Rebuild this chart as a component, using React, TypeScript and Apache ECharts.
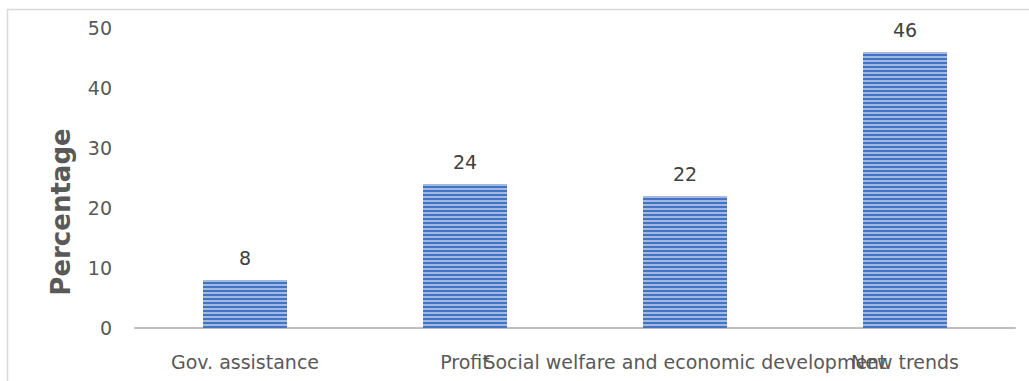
import React, { useEffect, useRef } from "react";
import * as echarts from "echarts";

const categories = ["Gov. assistance", "Profit", "Social welfare and economic development", "New trends"];
const values = [8, 24, 22, 46];
const yTicks = { min: 0, max: 50, interval: 10 };
const yTitle = "Percentage";

const FONT = "DejaVu Sans";

export default function App() {
  const ref = useRef<HTMLDivElement>(null);
  useEffect(() => {
    if (!ref.current) return;
    const chart = echarts.init(ref.current, undefined, { renderer: "svg" });
    chart.setOption({
      animation: false,
      backgroundColor: "#ffffff",
      graphic: [
        {
          type: "rect",
          silent: true,
          shape: { x: 7.5, y: 9.5, width: 1100, height: 500 },
          style: { fill: "none", stroke: "#D9D9D9", lineWidth: 1.5 },
        },
        {
          type: "text",
          silent: true,
          x: 61,
          y: 212,
          rotation: Math.PI / 2,
          style: {
            text: yTitle,
            fill: "#595959",
            font: `bold 26px "${FONT}"`,
            align: "center",
            verticalAlign: "middle",
          },
        },
      ],
      grid: { left: 135, right: 14, top: 28, bottom: 53, containLabel: false },
      xAxis: {
        type: "category",
        data: categories,
        axisLine: { show: true, lineStyle: { color: "#BFBFBF", width: 2 } },
        axisTick: { show: false },
        axisLabel: {
          interval: 0,
          color: "#595959",
          fontFamily: FONT,
          fontSize: 19,
          margin: 24,
        },
      },
      yAxis: {
        type: "value",
        min: yTicks.min,
        max: yTicks.max,
        interval: yTicks.interval,
        axisLine: { show: false },
        axisTick: { show: false },
        splitLine: { show: false },
        axisLabel: {
          color: "#595959",
          fontFamily: FONT,
          fontSize: 19,
          margin: 23,
        },
      },
      series: [
        {
          type: "bar",
          data: values,
          barWidth: 84,
          itemStyle: {
            color: "#4472C4",
            decal: {
              symbol: "rect",
              symbolSize: 1,
              dashArrayX: [1, 0],
              dashArrayY: [2, 2],
              rotation: 0,
              color: "rgba(255,255,255,0.5)",
            },
          },
          label: {
            show: true,
            position: "top",
            distance: 13,
            color: "#404040",
            fontFamily: FONT,
            fontSize: 19,
          },
        },
      ],
    });
    return () => chart.dispose();
  }, []);
  return (
    <div
      ref={ref}
      style={{ position: "fixed", left: 0, top: 0, width: 1029, height: 381 }}
    />
  );
}
